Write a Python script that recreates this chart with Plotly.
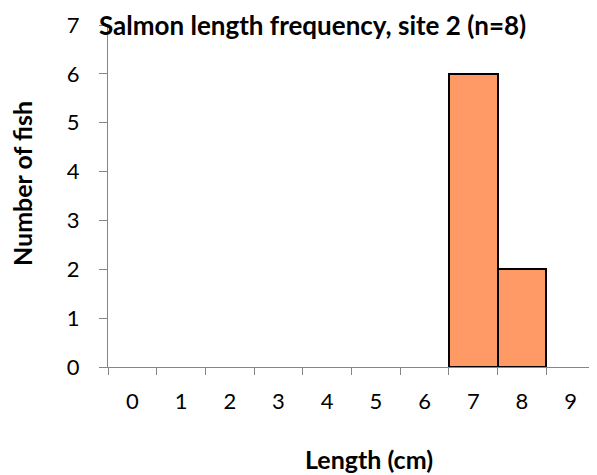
import plotly.graph_objects as go

categories = ["0", "1", "2", "3", "4", "5", "6", "7", "8", "9"]
counts = [0, 0, 0, 0, 0, 0, 0, 6, 2, 0]
y_ticks = [0, 1, 2, 3, 4, 5, 6, 7]
title_text = "Salmon length frequency, site 2 (n=8)"
x_title = "Length (cm)"
y_title = "Number of fish"

xs = [c for c, v in zip(categories, counts) if v > 0]
ys = [v for v in counts if v > 0]

FONT = "Lato"
# page body has an 8px margin; figure is sized/placed to compensate
W, H = 589, 467
ml, mr, mt, mb = 100, 2, 17, 108
pw = W - ml - mr
ph = H - mt - mb

fig = go.Figure()
fig.add_trace(go.Bar(
    x=xs, y=ys,
    marker=dict(color="#FF9966", line=dict(color="black", width=2)),
    width=1.0,
))
fig.update_layout(
    width=W, height=H,
    margin=dict(l=ml, r=mr, t=mt, b=mb),
    plot_bgcolor="white", paper_bgcolor="white",
    showlegend=False,
    bargap=0,
    font=dict(family=FONT, size=22, color="black"),
    xaxis=dict(
        type="category", categoryorder="array", categoryarray=categories,
        tickmode="array", tickvals=categories, ticktext=categories,
        range=[-0.5, 9.5],
        tickson="boundaries",
        ticks="outside", ticklen=7, tickcolor="#868686", tickwidth=1,
        showline=True, linecolor="#868686", linewidth=1,
        showgrid=False, zeroline=False,
        ticklabelstandoff=15,
        tickfont=dict(size=22),
    ),
    yaxis=dict(
        range=[0, 7], tickmode="array", tickvals=y_ticks,
        ticks="outside", ticklen=8, tickcolor="#868686", tickwidth=1,
        showline=True, linecolor="#868686", linewidth=1,
        showgrid=False, zeroline=False,
        ticklabelstandoff=15,
        tickfont=dict(size=22),
    ),
)
fig.add_annotation(
    text=f"<b>{title_text}</b>", xref="paper", yref="paper",
    x=(304 - ml) / pw, y=1 + mt / ph, showarrow=False,
    xanchor="center", yanchor="top", borderpad=0,
    font=dict(size=26, family=FONT),
)
fig.add_annotation(
    text=f"<b>{x_title}</b>", xref="paper", yref="paper",
    x=(361 - ml) / pw, y=-(451 - mt - ph) / ph, showarrow=False,
    xanchor="center", yanchor="middle", font=dict(size=25, family=FONT),
)
fig.add_annotation(
    text=f"<b>{y_title}</b>", xref="paper", yref="paper",
    x=-(ml - 14) / pw, y=1 - (176 - mt) / ph, showarrow=False,
    textangle=-90,
    xanchor="center", yanchor="middle", font=dict(size=25, family=FONT),
)
fig.write_html("out.html")
